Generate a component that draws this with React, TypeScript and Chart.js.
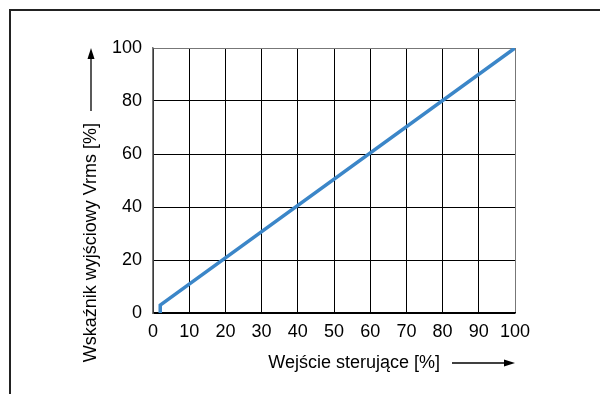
import React, { useEffect, useRef } from "react";
import { Chart, registerables } from "chart.js";

Chart.register(...registerables);

const inputPct = [2, 2, 100];
const outputPct = [0, 3, 100];
const xTicks = [0, 10, 20, 30, 40, 50, 60, 70, 80, 90, 100];
const yTicks = [0, 20, 40, 60, 80, 100];
const xTitle = "Wejście sterujące [%]";
const yTitle = "Wskaźnik wyjściowy Vrms [%]";

const FONT = "'Liberation Sans', Arial, sans-serif";

const titlesPlugin = {
  id: "arrowTitles",
  afterDraw(chart: any) {
    const { ctx, chartArea } = chart;
    const { left, right, top, bottom } = chartArea;
    ctx.save();
    ctx.fillStyle = "#000";
    ctx.strokeStyle = "#000";
    ctx.lineWidth = 1.3;
    ctx.font = `18px ${FONT}`;
    // X title + arrow
    const xy = bottom + 50;
    const arrowLen = 63;
    const gap = 12;
    ctx.textAlign = "right";
    ctx.textBaseline = "middle";
    ctx.fillText(xTitle, right - arrowLen - gap, xy);
    ctx.beginPath();
    ctx.moveTo(right - arrowLen, xy);
    ctx.lineTo(right - 8, xy);
    ctx.stroke();
    ctx.beginPath();
    ctx.moveTo(right, xy);
    ctx.lineTo(right - 11, xy - 3.5);
    ctx.lineTo(right - 11, xy + 3.5);
    ctx.closePath();
    ctx.fill();
    // Y title + arrow
    const yx = left - 62;
    ctx.save();
    ctx.translate(yx, top + arrowLen + gap);
    ctx.rotate(-Math.PI / 2);
    ctx.textAlign = "right";
    ctx.textBaseline = "middle";
    ctx.fillText(yTitle, 0, 0);
    ctx.restore();
    ctx.beginPath();
    ctx.moveTo(yx, top + arrowLen);
    ctx.lineTo(yx, top + 8);
    ctx.stroke();
    ctx.beginPath();
    ctx.moveTo(yx, top);
    ctx.lineTo(yx - 3.5, top + 11);
    ctx.lineTo(yx + 3.5, top + 11);
    ctx.closePath();
    ctx.fill();
    ctx.restore();
  },
};

export default function App() {
  const ref = useRef<HTMLCanvasElement>(null);
  useEffect(() => {
    document.body.style.margin = "0";
    const edge = (c: any) => (c.tick && (c.tick.value === 100) ? "#777" : "#000");
    const chart = new Chart(ref.current!, {
      type: "line",
      data: {
        datasets: [
          {
            data: inputPct.map((x, i) => ({ x, y: outputPct[i] })),
            borderColor: "#3B86C8",
            borderWidth: 3.5,
            pointRadius: 0,
            fill: false,
            tension: 0,
          },
        ],
      },
      options: {
        animation: false,
        responsive: false,
        events: [],
        layout: { padding: { top: 48, right: 85, left: 0, bottom: 0 } },
        plugins: { legend: { display: false }, tooltip: { enabled: false } },
        scales: {
          x: {
            type: "linear",
            min: 0,
            max: 100,
            afterBuildTicks: (s: any) => {
              s.ticks = xTicks.map((v) => ({ value: v }));
            },
            afterFit: (s: any) => {
              s.height = 81;
            },
            grid: { color: edge, lineWidth: 1, drawTicks: false },
            border: { color: "#000", width: 1.5 },
            ticks: { color: "#000", font: { family: FONT, size: 18 }, padding: 8, maxRotation: 0, autoSkip: false },
          },
          y: {
            type: "linear",
            min: 0,
            max: 100,
            afterBuildTicks: (s: any) => {
              s.ticks = yTicks.map((v) => ({ value: v }));
            },
            afterFit: (s: any) => {
              s.width = 153;
            },
            grid: { color: edge, lineWidth: 1, drawTicks: false },
            border: { color: "#777", width: 1.5 },
            ticks: { color: "#000", font: { family: FONT, size: 18 }, padding: 11 },
          },
        },
      },
      plugins: [titlesPlugin],
    });
    return () => chart.destroy();
  }, []);
  return (
    <div style={{ position: "relative", width: 600, height: 394, background: "#fff", overflow: "hidden" }}>
      <div
        style={{
          position: "absolute",
          left: 9,
          top: 9,
          width: 600,
          height: 400,
          borderTop: "2px solid #222",
          borderLeft: "2px solid #222",
        }}
      />
      <canvas ref={ref} width={600} height={394} style={{ position: "absolute", left: 0, top: 0 }} />
    </div>
  );
}
